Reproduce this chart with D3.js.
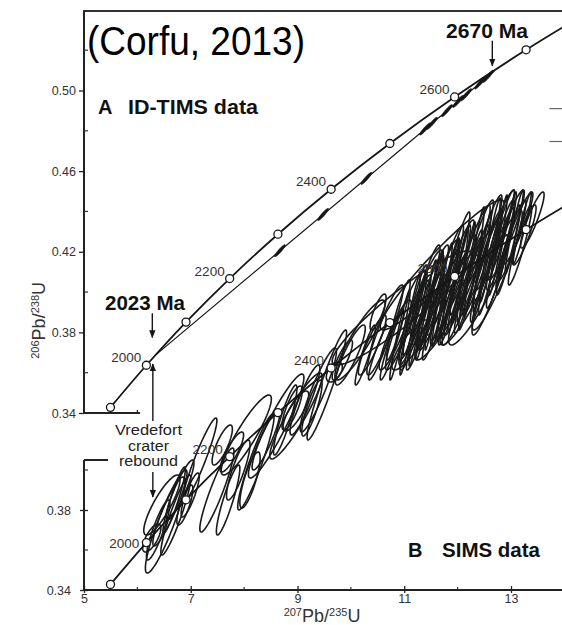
<!DOCTYPE html>
<html>
<head>
<meta charset="utf-8">
<script src="https://cdn.jsdelivr.net/npm/d3@7"></script>
<style>
body{margin:0;background:#fff;}
text{font-family:"Liberation Sans",Arial,sans-serif;}
</style>
</head>
<body>
<div id="chart-area"></div>
<script>
// concordia: ages (Ma) and ratios
var ages=[1900,2000,2100,2200,2300,2400,2500,2600,2700,2800];
var pb207u235=[5.496,6.169,6.911,7.729,8.633,9.630,10.730,11.944,13.283,14.762];
var pb206u238=[0.3428,0.3637,0.3851,0.4067,0.4287,0.4510,0.4737,0.4968,0.5202,0.5439];
var labelAges=[2000,2200,2400,2600];

// discordia of panel A (2023 Ma lower, upper intercept)
var discX=[6.333,12.69];
var discY=[0.3686,0.5097];

// ID-TIMS analyses (panel A)
var timsX=[8.67,9.48,10.29,11.39,11.52,11.80,12.01,12.16,12.42,12.57];
var timsY=[0.4205,0.4385,0.4564,0.4809,0.4837,0.4900,0.4946,0.4979,0.5037,0.5070];

// SIMS analyses (panel B): 207Pb/235U, err, 206Pb/238U, err, rho
var simsX=[6.52,6.46,6.61,6.69,6.72,6.27,7.17,6.99,6.80,6.39,6.89,
  7.49,8.22,7.77,8.04,7.89,7.70,8.11,8.41,7.59,
  8.60,8.97,8.97,8.77,9.14,9.39,9.55,9.27,9.69,8.90,9.84,
  10.96,11.71,10.17,10.40,10.64,10.83,11.02,11.20,11.30,11.49,11.64,11.77,11.90,12.05,12.20,12.33,12.46,12.57,12.70,12.80,12.91,13.02,13.13,13.25,
  12.39,12.14,11.67,10.51,11.11,12.74,13.40,11.95,11.39,9.99,11.82,12.24,12.61,11.52,12.95,12.05,11.20,10.89,
  10.92,11.11,11.26,11.41,11.56,11.71,11.86,12.01,12.16,12.31,12.46,12.61,12.76,12.91,13.06,13.21,
  11.60,11.90,12.20,12.50,12.80,11.30,10.77,10.55,10.27,
  11.77,12.33,11.49,12.80,11.20,12.05,12.61,13.17];
var simsXErr=[0.37,0.34,0.32,0.21,0.28,0.17,0.32,0.17,0.26,0.22,0.15,
  0.32,0.34,0.22,0.47,0.22,0.22,0.19,0.26,0.19,
  0.52,0.49,0.24,0.22,0.28,0.34,0.37,0.19,0.15,0.19,0.19,
  1.31,1.16,0.47,0.26,0.34,0.30,0.37,0.28,0.41,0.26,0.37,0.28,0.41,0.30,0.41,0.28,0.37,0.26,0.37,0.26,0.34,0.26,0.28,0.22,
  0.56,0.47,0.47,0.15,0.34,0.47,0.22,0.28,0.28,0.28,0.22,0.22,0.22,0.22,0.22,0.19,0.22,0.22,
  0.19,0.19,0.17,0.19,0.17,0.19,0.17,0.19,0.17,0.19,0.17,0.19,0.17,0.19,0.17,0.17,
  0.26,0.26,0.26,0.26,0.26,0.26,0.22,0.22,0.19,
  0.34,0.34,0.34,0.26,0.30,0.34,0.34,0.22];
var simsY=[0.3725,0.3825,0.381,0.385,0.3775,0.366,0.405,0.3875,0.390,0.370,0.3825,
  0.390,0.404,0.409,0.4175,0.400,0.385,0.395,0.415,0.4125,
  0.422,0.427,0.4295,0.425,0.435,0.440,0.4425,0.431,0.449,0.431,0.455,
  0.481,0.5025,0.465,0.4625,0.470,0.4675,0.475,0.4725,0.4825,0.480,0.4875,0.485,0.495,0.4925,0.5025,0.500,0.5075,0.5075,0.515,0.5125,0.5175,0.515,0.521,0.5175,
  0.490,0.485,0.475,0.479,0.4625,0.500,0.525,0.504,0.490,0.4575,0.490,0.495,0.5025,0.485,0.510,0.500,0.480,0.475,
  0.4675,0.4725,0.476,0.480,0.485,0.4875,0.491,0.495,0.499,0.504,0.504,0.510,0.5125,0.515,0.519,0.521,
  0.4775,0.485,0.4925,0.499,0.506,0.470,0.4625,0.460,0.4575,
  0.495,0.5075,0.4875,0.5175,0.475,0.485,0.4925,0.5125];
var simsYErr=[0.024,0.015,0.019,0.0165,0.020,0.007,0.021,0.011,0.015,0.015,0.010,
  0.021,0.024,0.010,0.020,0.015,0.0175,0.014,0.015,0.010,
  0.026,0.0215,0.010,0.0175,0.0175,0.021,0.0275,0.014,0.005,0.011,0.010,
  0.0285,0.0325,0.020,0.015,0.0225,0.0175,0.025,0.0225,0.0275,0.020,0.0275,0.0225,0.030,0.025,0.030,0.0225,0.030,0.0225,0.025,0.0225,0.0225,0.020,0.018,0.015,
  0.0275,0.0225,0.020,0.009,0.0125,0.030,0.014,0.025,0.0225,0.015,0.025,0.025,0.025,0.0225,0.0225,0.0225,0.0225,0.020,
  0.0225,0.025,0.024,0.025,0.025,0.026,0.025,0.026,0.025,0.0275,0.025,0.026,0.025,0.024,0.021,0.018,
  0.0225,0.0225,0.024,0.025,0.025,0.020,0.0175,0.015,0.015,
  0.0275,0.0275,0.025,0.0225,0.0225,0.0225,0.025,0.020];
var simsRho=[0.90,0.85,0.92,0.93,0.92,0.70,0.94,0.85,0.90,0.88,0.80,
  0.92,0.93,0.85,0.90,0.85,0.90,0.80,0.90,0.80,
  0.93,0.92,0.80,0.90,0.90,0.92,0.95,0.85,0.50,0.80,0.85,
  0.93,0.95,0.90,0.90,0.92,0.90,0.93,0.93,0.94,0.92,0.94,0.92,0.95,0.93,0.95,0.93,0.95,0.93,0.95,0.93,0.94,0.93,0.93,0.90,
  0.90,0.90,0.90,0.80,0.85,0.92,0.90,0.95,0.93,0.88,0.95,0.95,0.95,0.95,0.95,0.95,0.95,0.93,
  0.96,0.96,0.96,0.96,0.96,0.96,0.96,0.96,0.96,0.96,0.96,0.96,0.96,0.96,0.96,0.96,
  0.94,0.94,0.94,0.94,0.94,0.94,0.94,0.93,0.93,
  0.95,0.95,0.94,0.95,0.93,0.92,0.92,0.93];

var yTicksA=[0.34,0.38,0.42,0.46,0.50];
var yMinorA=[0.36,0.40,0.44,0.48,0.52];
var yTicksB=[0.34,0.38];
var yMinorB=[0.36,0.40];
var xTicks=[5,7,9,11,13];
var xMinor=[6,8,10,12];

var width=562, height=625;
var svg=d3.select("#chart-area").append("svg")
    .attr("width",width)
    .attr("height",height);

var x=d3.scaleLinear().domain([5,13]).range([84,511]);
var yA=d3.scaleLinear().domain([0.34,0.50]).range([413,90.5]);
var yB=d3.scaleLinear().domain([0.34,0.38]).range([590,510]);

var ink="#151515";
var defs=svg.append("defs");
defs.append("marker").attr("id","head")
    .attr("viewBox","0 0 10 10").attr("refX",9).attr("refY",5)
    .attr("markerWidth",8).attr("markerHeight",8)
    .attr("markerUnits","userSpaceOnUse").attr("orient","auto")
    .append("path").attr("d","M0,1 L10,5 L0,9 Z").attr("fill",ink);
defs.append("clipPath").attr("id","clipA").append("rect")
    .attr("x",x(5)).attr("y",yA(0.5395))
    .attr("width",width-x(5)).attr("height",yA(0.34)-yA(0.5395));
defs.append("clipPath").attr("id","clipB").append("rect")
    .attr("x",x(5)).attr("y",0)
    .attr("width",width-x(5)).attr("height",yB(0.34));

function ellPath(cx,sx,cy,sy,r,ys){
    var s=Math.sqrt(1-r*r);
    var pts=d3.range(0,73).map(function(i){
        var t=i/72*2*Math.PI;
        return [x(cx+sx*Math.cos(t)), ys(cy+sy*(r*Math.cos(t)+s*Math.sin(t)))];
    });
    return d3.line()(pts)+"Z";
}

function concordia(g,ys){
    var idx=d3.range(ages.length);
    g.append("path")
        .attr("d",d3.line().curve(d3.curveCatmullRom)
            .x(function(i){return x(pb207u235[i]);})
            .y(function(i){return ys(pb206u238[i]);})(idx))
        .attr("fill","none").attr("stroke",ink).attr("stroke-width",1.8);
}
function concCircles(g,ys){
    var idx=d3.range(ages.length-1);
    g.selectAll("circle.tick").data(idx).enter().append("circle")
        .attr("class","tick")
        .attr("cx",function(i){return x(pb207u235[i]);})
        .attr("cy",function(i){return ys(pb206u238[i]);})
        .attr("r",4).attr("fill","#fff").attr("stroke",ink).attr("stroke-width",1.3);
}
function concLabels(g,ys,dx,dy,dy2000){
    g.selectAll("text.age").data(labelAges).enter().append("text")
        .attr("class","age")
        .attr("x",function(a){return x(pb207u235[ages.indexOf(a)])+dx;})
        .attr("y",function(a){return ys(pb206u238[ages.indexOf(a)])+(a===2000?dy2000:dy);})
        .attr("text-anchor","end").attr("font-size","13.5px").attr("fill","#333")
        .text(function(a){return a;});
}

// ---------- panel A ----------
var gA=svg.append("g");
var plotA=gA.append("g").attr("clip-path","url(#clipA)");
concordia(plotA,yA);
plotA.append("line")
    .attr("x1",x(discX[0])).attr("y1",yA(discY[0]))
    .attr("x2",x(discX[1])).attr("y2",yA(discY[1]))
    .attr("stroke",ink).attr("stroke-width",1.2);
plotA.selectAll("path.tims").data(timsX).enter().append("path")
    .attr("class","tims")
    .attr("d",function(d,i){return ellPath(timsX[i],0.1,timsY[i],0.003,0.93,yA);})
    .attr("fill",ink).attr("stroke",ink).attr("stroke-width",0.8);
concCircles(plotA,yA);
concLabels(gA,yA,-5,-3,-3);

// frame A
gA.append("line").attr("x1",x(5)-1).attr("x2",width).attr("y1",yA(0.5395)).attr("y2",yA(0.5395))
    .attr("stroke","#333").attr("stroke-width",2);
gA.append("line").attr("x1",x(5)).attr("x2",x(5)).attr("y1",yA(0.5395)).attr("y2",yA(0.34))
    .attr("stroke","#222").attr("stroke-width",2);
gA.append("line").attr("x1",x(5)).attr("x2",x(6.05)).attr("y1",yA(0.34)).attr("y2",yA(0.34))
    .attr("stroke","#222").attr("stroke-width",2);
gA.append("line").attr("x1",x(6)).attr("x2",x(6)).attr("y1",yA(0.34)).attr("y2",yA(0.34)-3)
    .attr("stroke","#222").attr("stroke-width",1.2);

var yAxisA=gA.append("g").attr("transform","translate("+x(5)+",0)")
    .call(d3.axisLeft(yA).tickValues(yTicksA).tickFormat(d3.format(".2f")).tickSize(5).tickPadding(3));
yAxisA.select(".domain").remove();
yAxisA.selectAll("line").attr("stroke","#222").attr("stroke-width",1.3);
yAxisA.selectAll("text").attr("font-size","12.5px").attr("fill","#333")
    .attr("font-family","Liberation Sans, Arial, sans-serif");
gA.selectAll("line.minA").data(yMinorA).enter().append("line")
    .attr("class","minA")
    .attr("x1",x(5)).attr("x2",x(5)+4)
    .attr("y1",function(d){return yA(d);}).attr("y2",function(d){return yA(d);})
    .attr("stroke","#333").attr("stroke-width",1.2);

// stray legend dashes at right edge
gA.selectAll("line.dash").data([0.491,0.4747]).enter().append("line")
    .attr("class","dash")
    .attr("x1",x(13.72)).attr("x2",width)
    .attr("y1",function(d){return yA(d);}).attr("y2",function(d){return yA(d);})
    .attr("stroke","#666").attr("stroke-width",1.2);

// ---------- panel B ----------
var gB=svg.append("g");
gB.selectAll("path.sims").data(simsX).enter().append("path")
    .attr("class","sims")
    .attr("d",function(d,i){return ellPath(simsX[i],simsXErr[i],simsY[i],simsYErr[i],simsRho[i],yB);})
    .attr("fill","none").attr("stroke","#1a1a1a").attr("stroke-width",1.6);
var plotB=gB.append("g").attr("clip-path","url(#clipB)");
concordia(plotB,yB);
concCircles(plotB,yB);
concLabels(gB,yB,-7,-3,5);

// frame B
gB.append("line").attr("x1",x(5)).attr("x2",x(5)).attr("y1",yB(0.405)).attr("y2",yB(0.34))
    .attr("stroke","#222").attr("stroke-width",2);
gB.append("line").attr("x1",x(5)).attr("x2",x(5.45)).attr("y1",yB(0.405)).attr("y2",yB(0.405))
    .attr("stroke","#222").attr("stroke-width",2);
gB.append("line").attr("x1",x(5)).attr("x2",width).attr("y1",yB(0.34)).attr("y2",yB(0.34))
    .attr("stroke","#222").attr("stroke-width",2);

var yAxisB=gB.append("g").attr("transform","translate("+x(5)+",0)")
    .call(d3.axisLeft(yB).tickValues(yTicksB).tickFormat(d3.format(".2f")).tickSize(4).tickPadding(9));
yAxisB.select(".domain").remove();
yAxisB.selectAll("line").attr("x2",-4).attr("x1",4).attr("stroke","#222").attr("stroke-width",1.3);
yAxisB.selectAll("text").attr("font-size","12.5px").attr("fill","#333")
    .attr("font-family","Liberation Sans, Arial, sans-serif");
gB.selectAll("line.minB").data(yMinorB).enter().append("line")
    .attr("class","minB")
    .attr("x1",x(5)).attr("x2",x(5)+4)
    .attr("y1",function(d){return yB(d);}).attr("y2",function(d){return yB(d);})
    .attr("stroke","#333").attr("stroke-width",1.2);

var xAxisB=gB.append("g").attr("transform","translate(0,"+yB(0.34)+")")
    .call(d3.axisBottom(x).tickValues(xTicks).tickFormat(d3.format("d")).tickSize(3).tickPadding(1));
xAxisB.select(".domain").remove();
xAxisB.selectAll("line").attr("y1",-4).attr("stroke","#222").attr("stroke-width",1.3);
xAxisB.selectAll("text").attr("font-size","12.5px").attr("fill","#333")
    .attr("font-family","Liberation Sans, Arial, sans-serif");
gB.selectAll("line.minX").data(xMinor).enter().append("line")
    .attr("class","minX")
    .attr("x1",function(d){return x(d);}).attr("x2",function(d){return x(d);})
    .attr("y1",yB(0.34)).attr("y2",yB(0.34)-3)
    .attr("stroke","#333").attr("stroke-width",1.2);

// ---------- axis titles ----------
var yTitle=svg.append("text")
    .attr("transform","translate(45,"+((yA(0.34)+yA(0.42))/2-12)+") rotate(-90)")
    .attr("text-anchor","middle").attr("fill","#333");
yTitle.append("tspan").attr("font-size","11px").attr("dy",-6).text("206");
yTitle.append("tspan").attr("font-size","18px").attr("dy",6).text("Pb/");
yTitle.append("tspan").attr("font-size","11px").attr("dy",-6).text("238");
yTitle.append("tspan").attr("font-size","18px").attr("dy",6).text("U");

var xTitle=svg.append("text")
    .attr("x",322).attr("y",622)
    .attr("text-anchor","middle").attr("fill","#333");
xTitle.append("tspan").attr("font-size","11px").attr("dy",-6).text("207");
xTitle.append("tspan").attr("font-size","18px").attr("dy",6).text("Pb/");
xTitle.append("tspan").attr("font-size","11px").attr("dy",-6).text("235");
xTitle.append("tspan").attr("font-size","18px").attr("dy",6).text("U");

// ---------- annotations ----------
function arrow(x0,y0,y1){
    svg.append("line").attr("x1",x0).attr("x2",x0).attr("y1",y0).attr("y2",y1)
        .attr("stroke",ink).attr("stroke-width",1.4).attr("marker-end","url(#head)");
}
arrow(x(6.28),yA(0.3895),yA(0.3775));
arrow(x(12.65),yA(0.5247),yA(0.5123));
arrow(x(6.29),yA(0.336),yA(0.3643));
arrow(x(6.29),yB(0.399),yB(0.3865));

svg.append("text").attr("x",105).attr("y",310)
    .attr("font-size","20px").attr("font-weight","bold").attr("fill","#111")
    .attr("textLength",80).attr("lengthAdjust","spacingAndGlyphs").text("2023 Ma");
svg.append("text").attr("x",446).attr("y",38)
    .attr("font-size","20px").attr("font-weight","bold").attr("fill","#111")
    .attr("textLength",82).attr("lengthAdjust","spacingAndGlyphs").text("2670 Ma");

var vred=["Vredefort","crater","rebound"];
var vredLen=[67,41,59];
svg.selectAll("text.vred").data(vred).enter().append("text")
    .attr("class","vred")
    .attr("x",148.5).attr("y",function(d,i){return 435+i*15.5;})
    .attr("text-anchor","middle").attr("font-size","13.8px").attr("fill","#222")
    .attr("textLength",function(d,i){return vredLen[i];}).attr("lengthAdjust","spacingAndGlyphs")
    .text(function(d){return d;});

svg.append("text").attr("x",98).attr("y",114)
    .attr("font-size","20px").attr("font-weight","bold").attr("fill","#111").text("A");
svg.append("text").attr("x",128).attr("y",114)
    .attr("font-size","20px").attr("font-weight","bold").attr("fill","#111")
    .attr("textLength",130).attr("lengthAdjust","spacingAndGlyphs").text("ID-TIMS data");
svg.append("text").attr("x",408).attr("y",557)
    .attr("font-size","20px").attr("font-weight","bold").attr("fill","#111").text("B");
svg.append("text").attr("x",442).attr("y",557)
    .attr("font-size","20px").attr("font-weight","bold").attr("fill","#111")
    .attr("textLength",98).attr("lengthAdjust","spacingAndGlyphs").text("SIMS data");

svg.append("text").attr("x",87).attr("y",55)
    .attr("font-family","Lato, 'Open Sans', sans-serif")
    .attr("font-size","40px").attr("fill","#000")
    .attr("textLength",218).attr("lengthAdjust","spacingAndGlyphs")
    .text("(Corfu, 2013)");
</script>
</body>
</html>
